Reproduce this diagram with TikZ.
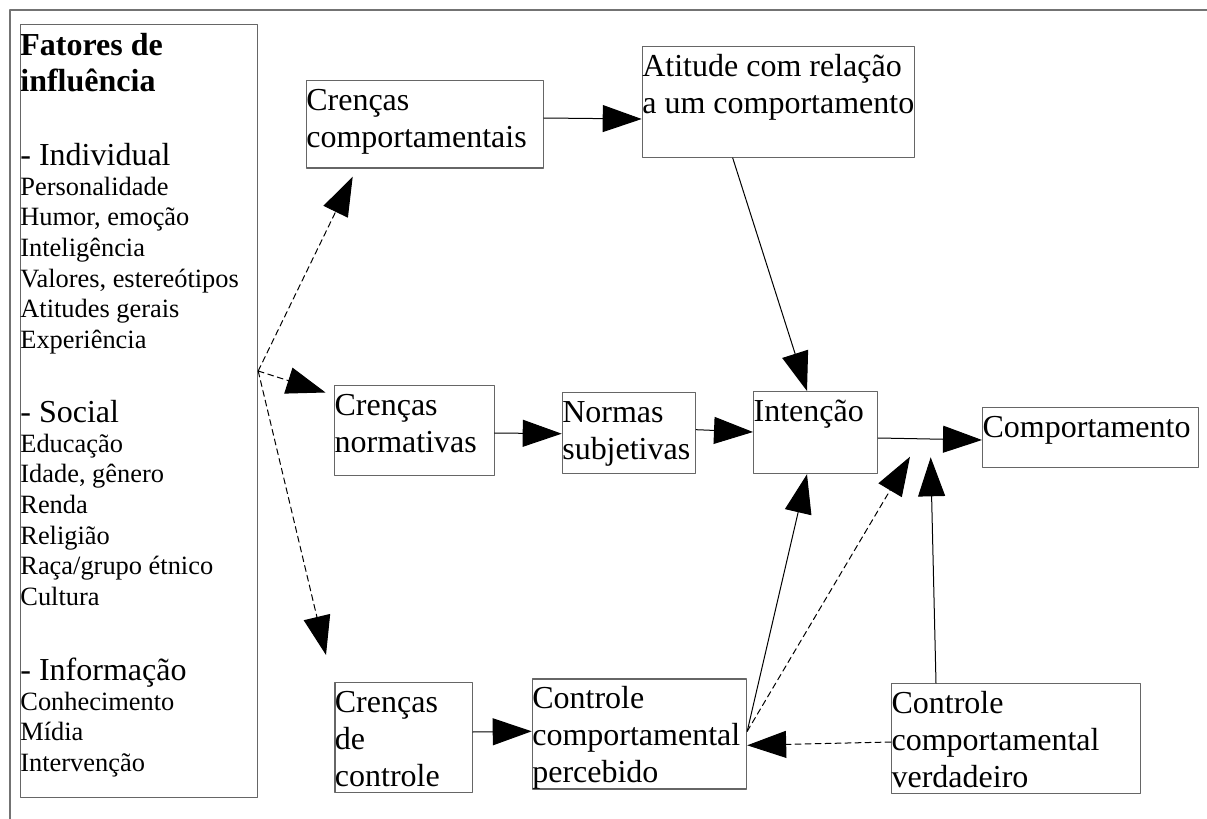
\documentclass[tikz,border=0pt]{standalone}
\usepackage{fontspec}
\setmainfont{Liberation Serif}
\usepackage{tikz}
\usetikzlibrary{calc}
\usetikzlibrary{arrows.meta}
\definecolor{cinzaborda}{rgb}{0.4,0.4,0.4}
\definecolor{cinzamoldura}{rgb}{0.45,0.45,0.45}
\newcommand{\grande}{\fontsize{16pt}{18.4pt}\selectfont}
\newcommand{\pequeno}{\fontsize{13.2pt}{15.35pt}\selectfont}
\tikzstyle{caixa}=[draw=cinzaborda,line width=0.6pt,inner sep=0pt,anchor=north west,align=flush left,font=\grande,text height=15pt]
\tikzstyle{texto}=[inner sep=0pt,anchor=base west,text width=118pt,align=flush left]
\tikzstyle{tracejada}=[dash pattern=on 3pt off 2pt]

\begin{document}
\begin{tikzpicture}[line cap=round,line join=round,>={Triangle[length=19.5pt,width=13.5pt]},x=0.5pt,y=-0.5pt]
\useasboundingbox (0,0) rectangle (1207,819);
\draw [line width=0.6pt,color=cinzamoldura] (1207,10) -- (10,10) -- (10,819);

\node [caixa,text width=118.5pt,minimum height=386.5pt] (fatores) at (20,24) {};
\node [texto,font=\grande\bfseries] (titulo) at (20,55) {Fatores de\\influência};
\node [texto,font=\grande] (individual) at (20,165) {- Individual};
\node [texto,font=\pequeno] (lista-individual) at (20,195) {Personalidade\\Humor, emoção\\Inteligência\\Valores, estereótipos\\Atitudes gerais\\Experiência};
\node [texto,font=\grande] (social) at (20,422) {- Social};
\node [texto,font=\pequeno] (lista-social) at (20,452) {Educação\\Idade, gênero\\Renda\\Religião\\Raça/grupo étnico\\Cultura};
\node [texto,font=\grande] (informacao) at (20,680) {- Informação};
\node [texto,font=\pequeno] (lista-informacao) at (20,710) {Conhecimento\\Mídia\\Intervenção};

\node [caixa,text width=118.5pt,text depth=28.65pt] (crencas-comp) at (305.7,80) {Crenças\\comportamentais};
\node [caixa,text width=136.15pt,text depth=40.35pt] (atitude) at (641.7,46) {Atitude com relação\\\mbox{a um comportamento}};
\node [caixa,text width=79.75pt,text depth=30pt] (crencas-norm) at (334,385) {Crenças\\normativas};
\node [caixa,text width=66.65pt,text depth=25.5pt] (normas) at (561.7,391.7) {Normas\\subjetivas};
\node [caixa,text width=62pt,text depth=26pt] (intencao) at (753,391) {Intenção};
\node [caixa,text width=108pt,text depth=15pt] (comportamento) at (982,407) {Comportamento};
\node [caixa,text width=68.7pt,text depth=40pt] (crencas-ctrl) at (334.3,682) {Crenças\\de\\controle};
\node [caixa,text width=107.15pt,text depth=40pt] (percebido) at (531.7,678.3) {Controle\\comportamental\\percebido};
\node [caixa,text width=124.5pt,text depth=40pt] (verdadeiro) at (891,683) {Controle\\comportamental\\verdadeiro};

\coordinate (origem) at ($(fatores.north east)+(0,347)$);
\coordinate (fim-comp) at (352.7,176.7);
\coordinate (fim-norm) at (325.5,392.5);
\coordinate (fim-ctrl) at (326,655);
\coordinate (fim-trac) at (910,456.7);
\coordinate (fim-verd) at (930.7,457.3);

\draw [->,line width=0.5pt] ($(crencas-comp.north east)+(0,38)$) -- ($(atitude.north west)+(0,73)$);
\draw [->,line width=0.5pt] ($(atitude.south west)+(91,0)$) -- ($(intencao.north west)+(54,0)$);
\draw [->,line width=0.5pt] ($(crencas-norm.north east)+(0,48)$) -- ($(normas.north west)+(0,42)$);
\draw [->,line width=0.5pt] ($(normas.north east)+(0,38)$) -- ($(intencao.north west)+(0,41)$);
\draw [->,line width=0.5pt] ($(intencao.north east)+(0,47)$) -- ($(comportamento.north west)+(0,33)$);
\draw [->,line width=0.5pt] ($(crencas-ctrl.north east)+(0,50)$) -- ($(percebido.north west)+(0,53)$);
\draw [->,line width=0.5pt] ($(percebido.north east)+(0,53)$) -- ($(intencao.south west)+(54,0)$);
\draw [->,line width=0.5pt,tracejada] ($(percebido.north east)+(0,53)$) -- (fim-trac);
\draw [->,line width=0.5pt] ($(verdadeiro.north west)+(45,0)$) -- (fim-verd);
\draw [->,line width=0.5pt,tracejada] ($(verdadeiro.north west)+(0,59)$) -- ($(percebido.north east)+(0,67)$);
\draw [->,line width=0.5pt,tracejada] (origem) -- (fim-comp);
\draw [->,line width=0.5pt,tracejada] (origem) -- (fim-norm);
\draw [->,line width=0.5pt,tracejada] (origem) -- (fim-ctrl);
\end{tikzpicture}
\end{document}
